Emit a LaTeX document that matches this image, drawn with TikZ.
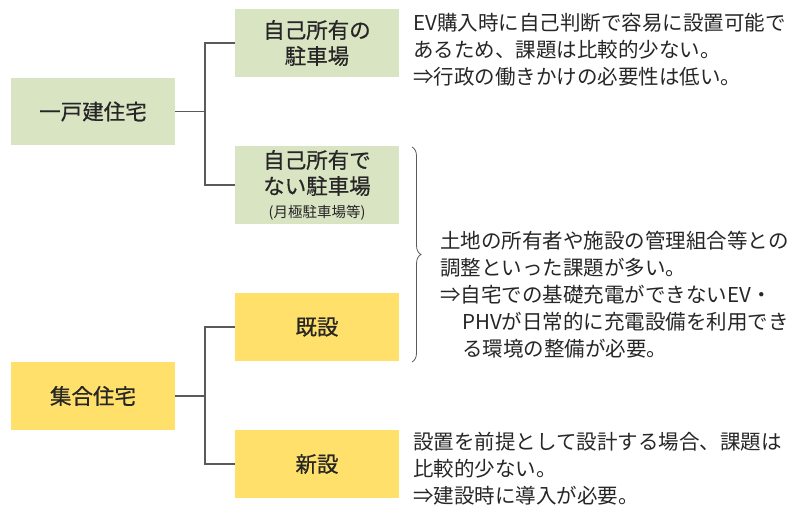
\documentclass[tikz,border=0pt]{standalone}
\usepackage{fontspec}
\setmainfont{Noto Sans CJK JP}
\newfontfamily\boxfont{Noto Sans CJK JP}[FakeBold=0.6]
\usetikzlibrary{decorations.pathreplacing}
\definecolor{boxgreen}{HTML}{D9E4C3}
\definecolor{boxyellow}{HTML}{FFE06B}
\definecolor{linegray}{HTML}{5A5A5A}
\begin{document}
\begin{tikzpicture}[x=1pt,y=-1pt,
  catbox/.style={inner sep=0pt, minimum width=164pt, align=center,
    font=\boxfont\fontsize{21.5}{26}\selectfont, text=black!85},
  greenbox/.style={catbox, fill=boxgreen},
  yellowbox/.style={catbox, fill=boxyellow},
  conn/.style={draw=linegray, line width=1.4pt},
  note/.style={inner sep=0pt, anchor=north west, align=left,
    font=\fontsize{20.5}{27}\selectfont, text=black!85}]
\useasboundingbox (0,0) rectangle (811,511);
% left boxes
\node[greenbox, minimum height=67pt] (h1) at (93,111.5) {一戸建住宅};
\node[yellowbox, minimum height=68pt] (h2) at (93,396) {集合住宅};
% right boxes
\node[greenbox, minimum height=68pt] (c1) at (317,43) {自己所有の\\駐車場};
\node[greenbox, minimum height=78pt] (c2) at (317,185) {自己所有で\\ない駐車場\\[-3pt]{\normalfont\fontsize{14.5}{16}\selectfont (月極駐車場等)}};
\node[yellowbox, minimum height=68pt] (c3) at (317,327) {既設};
\node[yellowbox, minimum height=68pt] (c4) at (317,464) {新設};
% connectors
\coordinate (j1) at (205,111.5);
\coordinate (j2) at (205,396);
\draw[conn] (h1.east) -- (j1);
\draw[conn] (c1.west) -| (j1) |- (c2.west);
\draw[conn] (h2.east) -- (j2);
\draw[conn] (c3.west) -| (j2) |- (c4.west);
% brace
\coordinate (b1) at (412,147);
\coordinate (b2) at (412,362);
\draw[linegray, line width=0.8pt, decorate, decoration={brace, amplitude=9pt}] (b1) -- (b2);
% notes
\node[note] (t1) at (413,13) {EV購入時に自己判断で容易に設置可能で\\あるため、課題は比較的少ない。\\⇒行政の働きかけの必要性は低い。};
\node[note] (t2) at (440,231) {土地の所有者や施設の管理組合等との\\調整といった課題が多い。\\⇒自宅での基礎充電ができないEV・\\\hspace*{22pt}PHVが日常的に充電設備を利用でき\\\hspace*{22pt}る環境の整備が必要。};
\node[note] (t3) at (413,432) {設置を前提として設計する場合、課題は\\比較的少ない。\\⇒建設時に導入が必要。};
\end{tikzpicture}
\end{document}
